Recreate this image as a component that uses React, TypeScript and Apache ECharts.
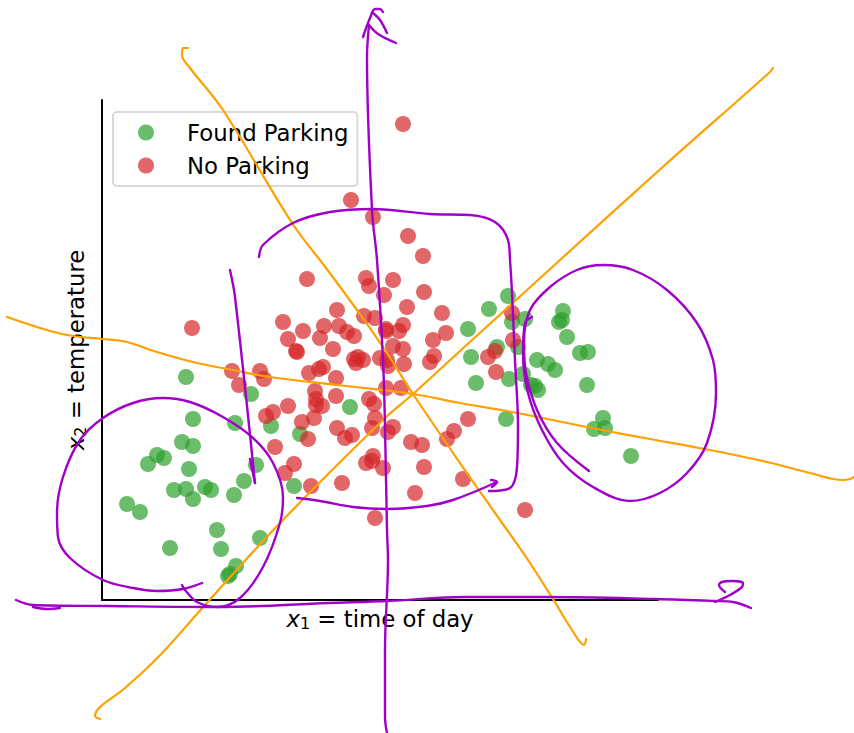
import React, { useEffect, useRef } from "react";
import * as echarts from "echarts";

const foundParking: number[][] = [
  [91,181],[133,177],[80,158],[91,154],[55,145],[62,142],[46,136],[87,131],[154,135],[142,119],
  [132,105],[103,113],[109,110],[72,110],[84,111],[91,101],[25,96],[38,88],[115,70],[158,62],
  [119,51],[68,52],[134,34],[128,26],[126,24],[84,223],[149,206],[169,174],[192,114],[198,166],
  [248,193],[406,304],[387,291],[366,271],[423,281],[410,278],[461,289],[460,280],[457,278],[465,263],
  [395,253],[416,253],[369,243],[478,247],[486,248],[435,240],[446,236],[453,230],[421,226],[407,221],
  [374,217],[429,215],[433,214],[436,210],[485,215],[501,182],[492,171],[503,172],[404,181],[529,144],
];

const noParking: number[][] = [
  [301,476],[249,400],[271,383],[306,364],[321,344],[205,321],[264,322],[267,314],[291,320],[282,305],
  [322,308],[235,290],[305,293],[340,287],[262,284],[273,282],[181,278],[222,274],[237,274],[245,268],
  [252,264],[201,269],[218,262],[186,261],[284,271],[284,269],[301,275],[297,269],[344,267],[331,260],
  [291,254],[301,251],[231,251],[194,249],[195,248],[256,243],[252,241],[261,240],[254,237],[278,242],
  [285,240],[286,234],[302,236],[332,244],[328,238],[221,233],[217,231],[207,227],[234,222],[130,229],
  [158,229],[162,221],[137,215],[213,209],[284,212],[299,212],[214,201],[234,204],[186,194],[214,195],
  [220,194],[267,201],[272,196],[171,188],[164,184],[212,182],[200,178],[273,182],[235,172],[250,165],
  [243,162],[270,172],[291,173],[286,168],[206,161],[309,158],[320,155],[345,161],[352,169],[173,153],
  [271,144],[264,137],[270,139],[281,132],[322,133],[192,136],[183,127],[209,114],[240,117],[313,107],
  [273,82],[361,121],[90,272],[410,287],[411,260],[393,249],[386,243],[394,228],[366,181],[423,90],
];

const orangeStrokes: number[][][] = [
  [[86,552],[81,552],[80,545],[88,532],[121,490],[190,377],[224,332],[255,290],[281,253],[311,206],[358,137],[398,80],[426,40],[451,1],[470,-30],[482,-45],[484,-39]],
  [[-2,-119],[-7,-116],[23,-88],[43,-70],[63,-50],[103,-5],[178,77],[281,180],[311,206],[358,249],[458,340],[563,435],[668,528],[671,532]],
  [[-95,283],[-52,269],[-29,264],[0,261],[25,258],[55,248],[91,238],[136,229],[168,223],[235,215],[311,206],[358,197],[415,187],[500,170],[548,161],[603,151],[665,138],[708,127],[741,120],[748,121],[752,123]],
];

const purpleStrokes: number[][][] = [
  [[285,-133],[283,-117],[283,-50],[286,40],[285,70],[283,173],[281,240],[275,340],[270,390],[265,543],[267,575]],
  [[261,563],[268,582],[273,591],[278,591],[281,588]],
  [[271,587],[278,580],[285,567]],
  [[267,575],[276,566],[294,557]],
  [[-86,0],[-69,-5],[7,-6],[117,-7],[226,-3],[286,-1],[363,3],[445,3],[554,1],[613,-1],[631,-2],[649,-8]],
  [[-69,-7],[-55,-9],[-42,-8]],
  [[613,-2],[628,5],[640,13],[641,17],[631,19],[620,18],[617,15],[623,8]],
  [[100,17],[81,11],[55,9],[31,12],[1,20],[-32,42],[-44,63],[-45,87],[-39,123],[-22,160],[1,182],[31,197],[61,202],[88,198],[121,183],[151,162],[171,137],[181,103],[178,77],[161,33],[138,2],[115,-7],[95,-2],[83,10],[80,15]],
  [[128,330],[133,303],[153,117]],
  [[148,141],[153,117]],
  [[157,343],[161,355],[191,377],[228,388],[271,391],[328,386],[368,385],[393,378],[406,360],[408,340],[410,307],[413,240],[416,173],[415,133],[408,112],[387,109]],
  [[195,102],[218,99],[251,93],[285,91],[325,94],[351,100],[395,118]],
  [[389,120],[395,118],[390,113]],
  [[430,283],[423,277],[421,247],[426,207],[440,170],[461,137],[491,113],[528,99],[558,107],[585,127],[605,157],[614,207],[611,240],[595,277],[565,310],[531,330],[501,335],[475,330],[448,313],[428,290],[422,257],[424,227],[435,190],[455,157],[487,129]],
];

const seriesNames = ["Found Parking", "No Parking"];
const FONT = "DejaVu Sans";

const strokeSeries = (points: number[][], color: string, width: number, index: number) => ({
  type: "line",
  name: `stroke-${color}-${index}`,
  xAxisIndex: 1,
  yAxisIndex: 1,
  data: points,
  clip: false,
  smooth: 0.35,
  symbol: "none",
  silent: true,
  z: 10,
  lineStyle: { color, width, cap: "round", join: "round" },
});

const axisNameRich = {
  i: { fontFamily: FONT, fontSize: 22.8, fontStyle: "italic", color: "#000" },
  s: { fontFamily: FONT, fontSize: 16, color: "#000", verticalAlign: "bottom", padding: [8, 0, 0, 0] },
  n: { fontFamily: FONT, fontSize: 22.8, color: "#000" },
};

export default function App() {
  const ref = useRef<HTMLDivElement>(null);
  useEffect(() => {
    document.body.style.margin = "0";
    const chart = echarts.init(ref.current!, null, { renderer: "svg" });
    const hiddenAxis = { type: "value", show: false, splitLine: { show: false } };
    chart.setOption({
      animation: false,
      backgroundColor: "#fff",
      grid: [
        { left: 102, top: 100, width: 556, height: 500 },
        { left: 0, top: 0, width: 854, height: 733 },
      ],
      legend: {
        data: seriesNames,
        orient: "vertical",
        left: 113,
        top: 112,
        padding: [9, 9, 9, 25],
        itemGap: 10,
        itemWidth: 16,
        itemHeight: 16,
        icon: "circle",
        align: "left",
        backgroundColor: "rgba(255,255,255,0.8)",
        borderColor: "#d9d9d9",
        borderWidth: 2,
        borderRadius: 4,
        textStyle: { fontFamily: FONT, fontSize: 22.8, color: "#000", padding: [0, 0, 3, 28] },
      },
      xAxis: [
        {
          type: "value",
          min: 0,
          max: 556,
          name: "{i|x}{s|1}{n| = time of day}",
          nameLocation: "middle",
          nameGap: 7,
          nameTextStyle: { rich: axisNameRich },
          splitLine: { show: false },
          axisTick: { show: false },
          axisLabel: { show: false },
          axisLine: { lineStyle: { color: "#000", width: 2 } },
        },
        { ...hiddenAxis, gridIndex: 1, min: -102, max: 752 },
      ],
      yAxis: [
        {
          type: "value",
          min: 0,
          max: 500,
          name: "{i|x}{s|2}{n| = temperature}",
          nameLocation: "middle",
          nameRotate: 90,
          nameGap: 14,
          nameTextStyle: { rich: axisNameRich },
          splitLine: { show: false },
          axisTick: { show: false },
          axisLabel: { show: false },
          axisLine: { lineStyle: { color: "#000", width: 2 } },
        },
        { ...hiddenAxis, gridIndex: 1, min: -133, max: 600 },
      ],
      series: [
        {
          type: "scatter",
          name: seriesNames[0],
          data: foundParking,
          symbolSize: 16,
          z: 2,
          itemStyle: { color: "#2ca02c", opacity: 0.7 },
        },
        {
          type: "scatter",
          name: seriesNames[1],
          data: noParking,
          symbolSize: 16,
          z: 3,
          itemStyle: { color: "#d62728", opacity: 0.7 },
        },
        ...orangeStrokes.map((s, i) => strokeSeries(s, "#ffa000", 2.2, i)),
        ...purpleStrokes.map((s, i) => strokeSeries(s, "#a000c8", 2.4, i)),
      ],
    });
    return () => chart.dispose();
  }, []);
  return <div ref={ref} style={{ width: 854, height: 733 }} />;
}
